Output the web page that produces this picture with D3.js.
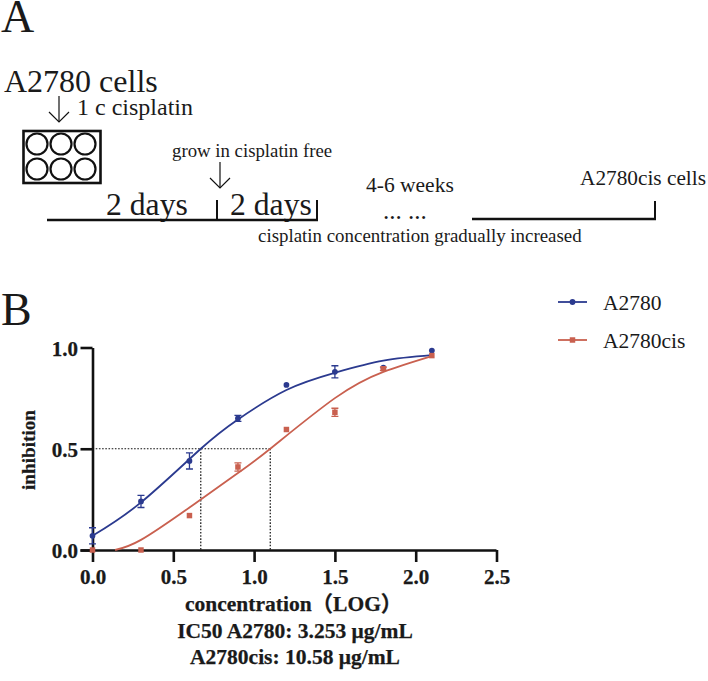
<!DOCTYPE html>
<html><head><meta charset="utf-8">
<script src="https://cdnjs.cloudflare.com/ajax/libs/d3/7.8.5/d3.min.js"></script>
<style>html,body{margin:0;padding:0;background:#fff}svg{display:block}text{font-family:"Liberation Serif",serif;fill:#1a1a1a}</style>
</head><body><svg id="c" width="708" height="681"></svg>
<script>
const blueX=[0,0.3,0.6,0.9,1.2,1.5,1.8,2.1];
const blueY=[0.07,0.24,0.44,0.65,0.815,0.88,0.90,0.985];
const blueErr=[0.04,0.03,0.04,0.015,0,0.03,0,0];
const redX=[0,0.3,0.6,0.9,1.2,1.5,1.8,2.1];
const redY=[0,0,0.17,0.41,0.595,0.68,0.895,0.96];
const redErr=[0,0,0,0.02,0,0.02,0.008,0];
const blueCurveX=[0,0.3,0.67,0.9,1.2,1.5,1.8,2.1];
const blueCurveY=[0.07,0.235,0.5,0.645,0.79,0.875,0.935,0.962];
const redCurveX=[0.14,0.3,0.6,0.9,1.1,1.5,1.8,2.1];
const redCurveY=[0,0.05,0.21,0.38,0.5,0.75,0.88,0.958];
const xTicks=[0,0.5,1,1.5,2,2.5];
const yTicks=[0,0.5,1];
const ic50=[0.67,1.1];
const legendNames=["A2780","A2780cis"];
const wellCols=[37,61,85];
const wellRows=[144,169];

const svg=d3.select("#c");
const BLUE="#2b3a8f",RED="#c9604f",INK="#111";
const x=d3.scaleLinear().domain([0,2.5]).range([92.5,496.5]);
const y=d3.scaleLinear().domain([0,1]).range([550,347.5]);

function label(t,px,py,size,opt={}){
  const e=svg.append("text").attr("x",px).attr("y",py).attr("font-size",size).text(t);
  if(opt.bold)e.attr("font-weight","bold").attr("stroke","#1a1a1a").attr("stroke-width",0.25);
  if(opt.anchor)e.attr("text-anchor",opt.anchor);
  return e;
}
function seg(x1,y1,x2,y2,w){svg.append("line").attr("x1",x1).attr("y1",y1).attr("x2",x2).attr("y2",y2).attr("stroke",INK).attr("stroke-width",w);}
function arrow(px,y1,y2){
  seg(px,y1,px,y2,1.2);
  svg.append("path").attr("d",`M${px-10},${y2-10}L${px},${y2}L${px+10},${y2-10}`).attr("fill","none").attr("stroke",INK).attr("stroke-width",1.2);
}

// Panel A
label("A",1,32,46);
label("A2780 cells",4,92,32);
label("1 c cisplatin",77,115,24);
arrow(59,96,122);
svg.append("rect").attr("x",23.5).attr("y",131).attr("width",77).attr("height",52).attr("fill","none").attr("stroke",INK).attr("stroke-width",2.6);
wellRows.forEach(r=>wellCols.forEach(c=>svg.append("circle").attr("cx",c).attr("cy",r).attr("r",10.5).attr("fill","none").attr("stroke",INK).attr("stroke-width",2.2)));
label("grow in cisplatin free",172,157,18.8);
arrow(220,162,188);
label("2 days",106,215,31.7);
label("2 days",230,215,31.7);
seg(47,220,318,220,2.4);seg(217,200,217,220,2);seg(317,200,317,221,2);
label("4-6 weeks",366,192,21.5);
label("... ...",383,219,25);
seg(472,219,656,219,2.4);seg(655,201,655,220,2);
label("A2780cis cells",580,185,21.3);
label("cisplatin concentration gradually increased",258,242,18.9);

// Panel B
label("B",1,325,46);
const gx=svg.append("g").attr("transform","translate(0,550)").call(d3.axisBottom(x).tickValues(xTicks).tickFormat(d3.format(".1f")).tickSize(12).tickSizeOuter(0).tickPadding(7));
const gy=svg.append("g").attr("transform","translate(92.5,0)").call(d3.axisLeft(y).tickValues(yTicks).tickFormat(d3.format(".1f")).tickSize(12).tickSizeOuter(0).tickPadding(2.5));
[gx,gy].forEach(g=>{
  g.selectAll("path,line").attr("stroke",INK).attr("stroke-width",2.6);
  g.selectAll("text").attr("font-family","Liberation Serif").attr("font-weight","bold").attr("font-size",21).attr("fill",INK).attr("stroke",INK).attr("stroke-width",0.25);
});
gy.selectAll(".tick text").attr("dy","0.36em");
gx.select(".domain").attr("d",`M${x(0)-12},0.5H${x(2.5)}`);

// IC50 guides
const guide=g=>g.attr("fill","none").attr("stroke",INK).attr("stroke-width",1.2).attr("stroke-dasharray","1.6 1.6");
svg.append("path").call(guide).attr("d",`M${x(0)},${y(0.5)}H${x(ic50[1])}`);
ic50.forEach(v=>svg.append("path").call(guide).attr("d",`M${x(v)},${y(0.5)}V${y(0)}`));

const line=d3.line().x(d=>x(d[0])).y(d=>y(d[1])).curve(d3.curveNatural);
function series(xs,ys,errs,cxs,cys,color,kind){
  svg.append("path").attr("d",line(d3.zip(cxs,cys))).attr("fill","none").attr("stroke",color).attr("stroke-width",1.8);
  xs.forEach((v,i)=>{
    const px=x(v),py=y(ys[i]);
    if(errs[i]>0){
      const a=y(ys[i]+errs[i]),b=y(ys[i]-errs[i]);
      svg.append("path").attr("d",`M${px-3.5},${a}H${px+3.5}M${px},${a}V${b}M${px-3.5},${b}H${px+3.5}`).attr("fill","none").attr("stroke",color).attr("stroke-width",1.3);
    }
    marker(px,py,color,kind);
  });
}
function marker(px,py,color,kind){
  const m=d3.symbol().type(kind==="c"?d3.symbolCircle:d3.symbolSquare).size(kind==="c"?26:30);
  svg.append("path").attr("d",m()).attr("transform",`translate(${px},${py})`).attr("fill",color);
}
series(blueX,blueY,blueErr,blueCurveX,blueCurveY,BLUE,"c");
series(redX,redY,redErr,redCurveX,redCurveY,RED,"s");

// legend
[[302,BLUE,"c"],[340,RED,"s"]].forEach((r,i)=>{
  svg.append("line").attr("x1",558).attr("x2",587).attr("y1",r[0]).attr("y2",r[0]).attr("stroke",r[1]).attr("stroke-width",1.8);
  marker(572.5,r[0],r[1],r[2]);
  label(legendNames[i],603,r[0]+8,21.5);
});

// axis labels
label("inhibition",0,0,19.2,{bold:true,anchor:"middle"}).attr("transform","translate(35,450) rotate(-90)");
label("concentration（LOG）",185,611,21.5,{bold:true}).style("font-family",'"Liberation Serif","Noto Sans CJK SC",serif');
label("IC50 A2780: 3.253 μg/mL",295,638,21.5,{bold:true,anchor:"middle"});
label("A2780cis: 10.58 μg/mL",295,664,21.5,{bold:true,anchor:"middle"});
</script></body></html>
